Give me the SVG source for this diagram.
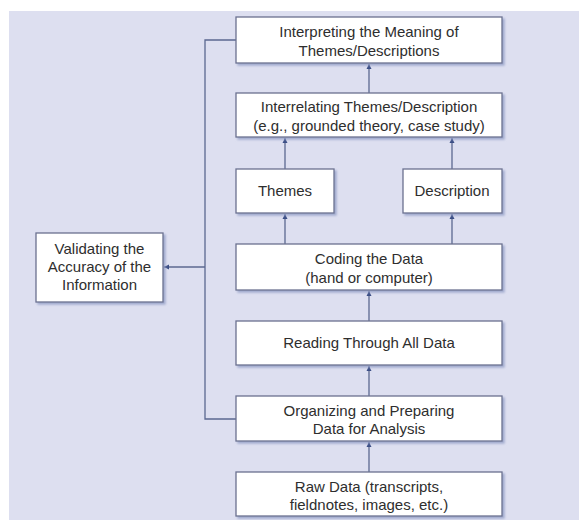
<svg xmlns="http://www.w3.org/2000/svg" width="579" height="520" viewBox="0 0 579 520">
<defs>
<marker id="ah" markerWidth="6" markerHeight="6" refX="5" refY="3" orient="auto" markerUnits="userSpaceOnUse">
<path d="M0,0.5 L5,3 L0,5.5 z" fill="#3c4f86"/>
</marker>
<filter id="sh" x="-5%" y="-5%" width="115%" height="130%">
<feDropShadow dx="2" dy="2" stdDeviation="1" flood-color="#8f9bc4" flood-opacity="0.8"/>
</filter>
</defs>
<style>
.box{fill:#ffffff;stroke:#6b7190;stroke-width:1.3;filter:url(#sh)}
.t{font-family:"Liberation Sans",Arial,sans-serif;font-size:15px;fill:#2e2e2e;text-anchor:middle}
.c{fill:none;stroke:#5b6890;stroke-width:1.3}
</style>
<rect x="0" y="0" width="579" height="520" fill="#ffffff"/>
<rect x="9" y="11" width="570" height="509" fill="#dddff0"/>
<g id="connectors">
<line class="c" x1="369" y1="93" x2="369" y2="64" marker-end="url(#ah)"/>
<line class="c" x1="285" y1="169" x2="285" y2="138" marker-end="url(#ah)"/>
<line class="c" x1="452" y1="169" x2="452" y2="138" marker-end="url(#ah)"/>
<line class="c" x1="285" y1="244" x2="285" y2="214" marker-end="url(#ah)"/>
<line class="c" x1="452" y1="244" x2="452" y2="214" marker-end="url(#ah)"/>
<line class="c" x1="369" y1="321" x2="369" y2="291" marker-end="url(#ah)"/>
<line class="c" x1="369" y1="396" x2="369" y2="366" marker-end="url(#ah)"/>
<line class="c" x1="369" y1="472" x2="369" y2="442" marker-end="url(#ah)"/>
<polyline class="c" points="236,40 205,40 205,419 236,419"/>
<line class="c" x1="205" y1="267" x2="164" y2="267" marker-end="url(#ah)"/>
</g>
<g id="interpreting">
<rect class="box" x="236" y="17" width="266" height="46"/>
<text class="t" x="369" y="37">Interpreting the Meaning of</text>
<text class="t" x="369" y="56">Themes/Descriptions</text>
</g>
<g id="interrelating">
<rect class="box" x="236" y="93" width="266" height="44"/>
<text class="t" x="369" y="112">Interrelating Themes/Description</text>
<text class="t" x="369" y="131">(e.g., grounded theory, case study)</text>
</g>
<g id="themes">
<rect class="box" x="236" y="169" width="98" height="44"/>
<text class="t" x="285" y="196">Themes</text>
</g>
<g id="description">
<rect class="box" x="403" y="169" width="99" height="44"/>
<text class="t" x="452" y="196">Description</text>
</g>
<g id="validating">
<rect class="box" x="36" y="233" width="127" height="69"/>
<text class="t" x="99.5" y="254">Validating the</text>
<text class="t" x="99.5" y="272">Accuracy of the</text>
<text class="t" x="99.5" y="290">Information</text>
</g>
<g id="coding">
<rect class="box" x="236" y="244" width="266" height="46"/>
<text class="t" x="369" y="264">Coding the Data</text>
<text class="t" x="369" y="283">(hand or computer)</text>
</g>
<g id="reading">
<rect class="box" x="236" y="321" width="266" height="44"/>
<text class="t" x="369" y="348">Reading Through All Data</text>
</g>
<g id="organizing">
<rect class="box" x="236" y="396" width="266" height="45"/>
<text class="t" x="369" y="416">Organizing and Preparing</text>
<text class="t" x="369" y="434">Data for Analysis</text>
</g>
<g id="rawdata">
<rect class="box" x="236" y="472" width="266" height="44"/>
<text class="t" x="369" y="492">Raw Data (transcripts,</text>
<text class="t" x="369" y="510">fieldnotes, images, etc.)</text>
</g>
</svg>
